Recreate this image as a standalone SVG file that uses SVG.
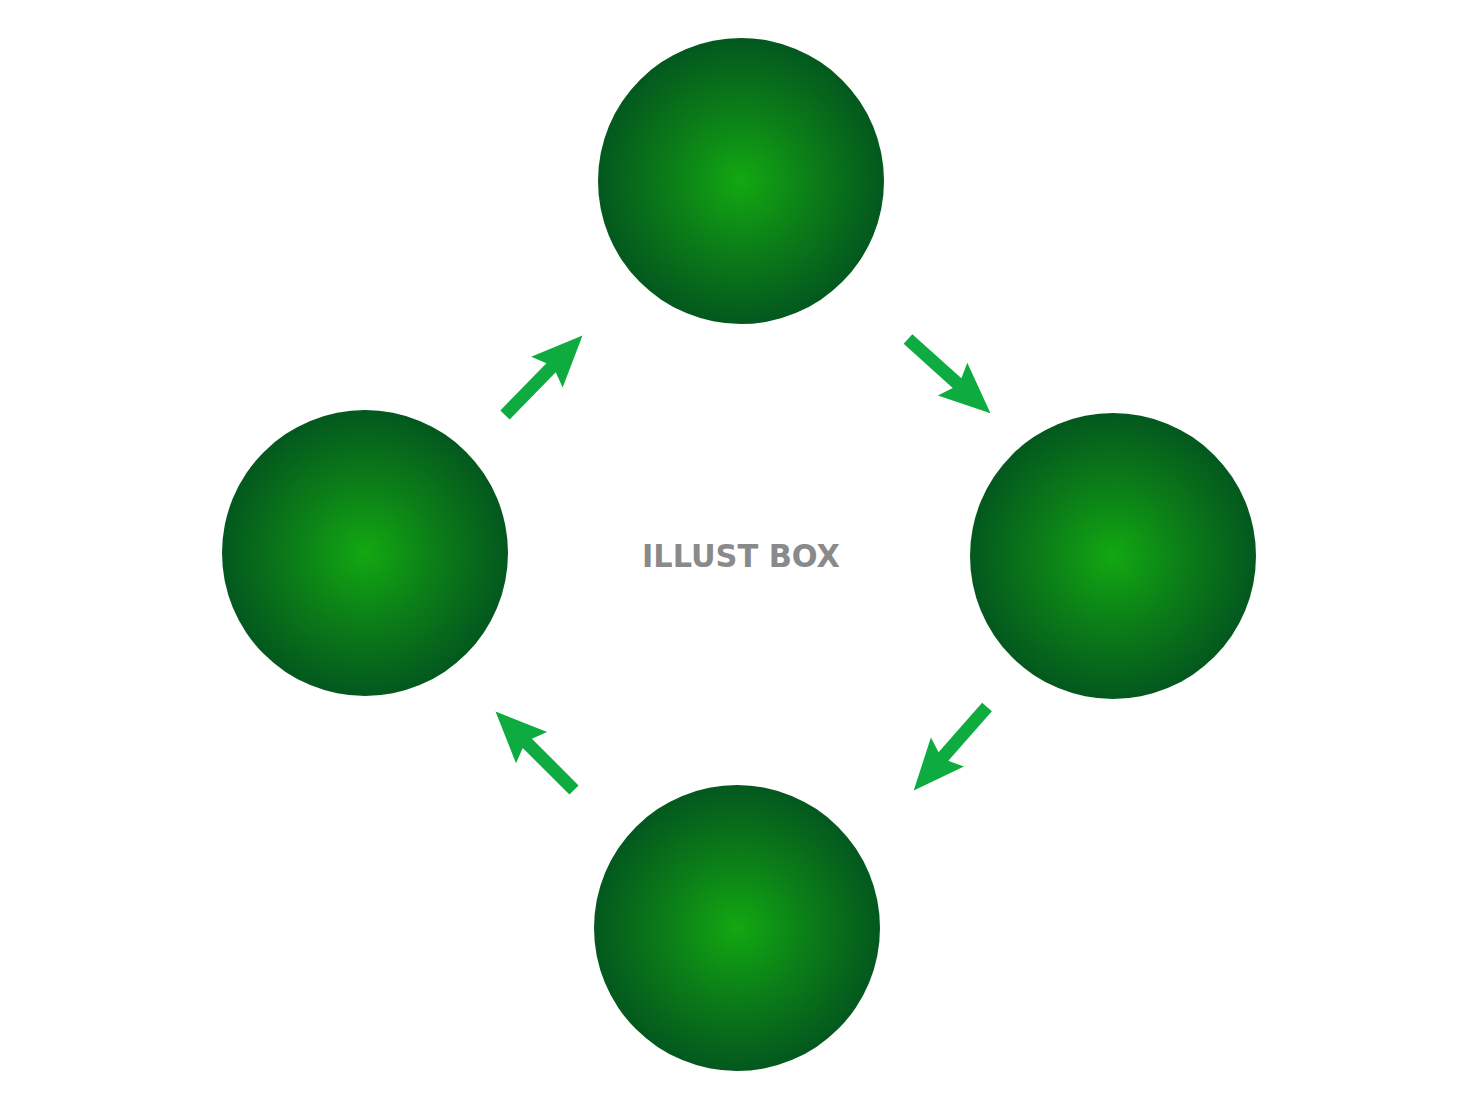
<svg xmlns="http://www.w3.org/2000/svg" width="1480" height="1110" viewBox="0 0 1480 1110">
<defs>
<radialGradient id="g" cx="50%" cy="50%" r="50%">
<stop offset="0" stop-color="#12a812"/>
<stop offset="0.5" stop-color="#0b7d18"/>
<stop offset="1" stop-color="#03581e"/>
</radialGradient>
<polygon id="arr" points="0,-6.5 66,-6.5 60,-22 111,0 60,22 66,6.5 0,6.5"/>
</defs>
<style>
.node{fill:url(#g)}
.arrow{fill:#0dab40}
.lbl{font-family:"DejaVu Sans","Liberation Sans",sans-serif;font-weight:bold;font-size:32px;fill:#8a8a8a}
</style>
<rect width="1480" height="1110" fill="#ffffff"/>
<g id="node-top"><circle class="node" cx="741" cy="181" r="143"/></g>
<g id="node-right"><circle class="node" cx="1113" cy="556" r="143"/></g>
<g id="node-bottom"><circle class="node" cx="737" cy="928" r="143"/></g>
<g id="node-left"><circle class="node" cx="365" cy="553" r="143"/></g>
<g id="connectors">
<use href="#arr" class="arrow" transform="translate(505,415) rotate(-45.7)"/>
<use href="#arr" class="arrow" transform="translate(908,339) rotate(42)"/>
<use href="#arr" class="arrow" transform="translate(987,707) rotate(131.3)"/>
<use href="#arr" class="arrow" transform="translate(574,790) rotate(-135)"/>
</g>
<text class="lbl" x="642" y="567" textLength="198" lengthAdjust="spacingAndGlyphs">ILLUST BOX</text>
</svg>
